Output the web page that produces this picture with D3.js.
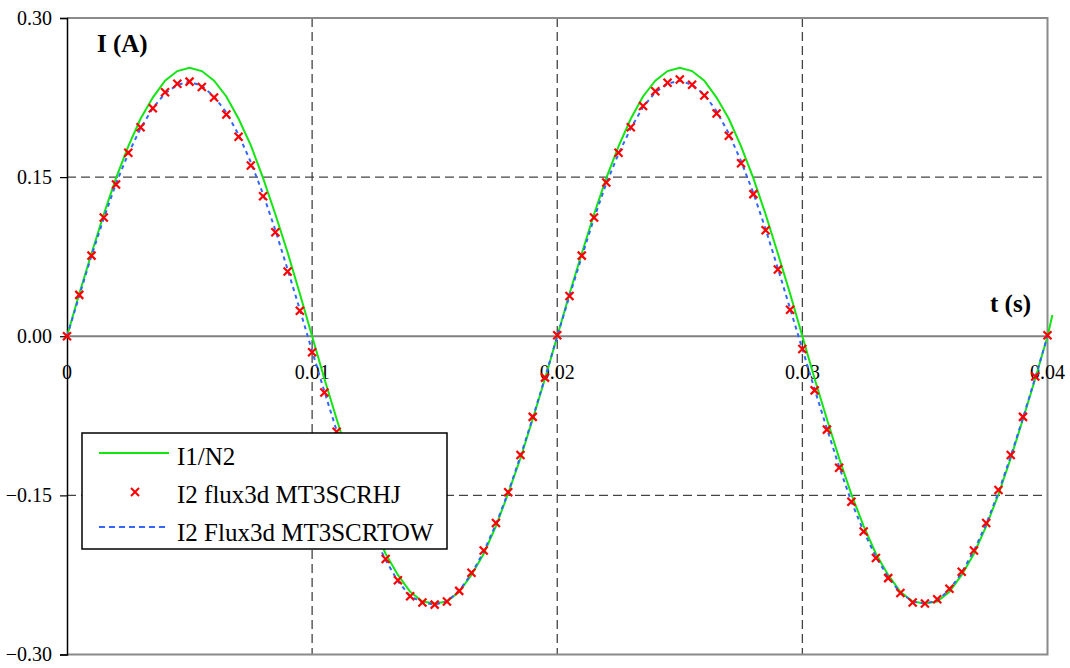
<!DOCTYPE html>
<html>
<head>
<meta charset="utf-8">
<script src="https://cdn.jsdelivr.net/npm/d3@7"></script>
<style>
  body { margin: 0; background: #fff; }
  svg { display: block; }
  svg text { font-family: 'Liberation Serif', 'Times New Roman', 'DejaVu Serif', serif; }
</style>
</head>
<body>
<div id="chart"></div>
<script>
// sample times (s), one sample every 0.5 ms over two periods
const sampleTimes = d3.range(0, 81).map(i => +(i * 0.0005).toFixed(4));
const greenTimes = sampleTimes.concat([0.0402]);

// I1/N2 (A)
const greenValues = [
  0.000, 0.040, 0.078, 0.115, 0.149, 0.179, 0.205, 0.225, 0.241, 0.250,
  0.253, 0.250, 0.241, 0.226, 0.205, 0.180, 0.149, 0.115, 0.079, 0.040,
  0.000, -0.040, -0.078, -0.115, -0.149, -0.179, -0.205, -0.225, -0.241, -0.250,
  -0.252, -0.250, -0.241, -0.225, -0.205, -0.179, -0.148, -0.115, -0.078, -0.040,
  0.000, 0.040, 0.078, 0.115, 0.149, 0.179, 0.205, 0.226, 0.241, 0.250,
  0.253, 0.250, 0.241, 0.225, 0.205, 0.179, 0.149, 0.115, 0.078, 0.040,
  0.000, -0.040, -0.078, -0.115, -0.149, -0.179, -0.205, -0.225, -0.241, -0.250,
  -0.252, -0.250, -0.241, -0.225, -0.205, -0.179, -0.149, -0.115, -0.078, -0.040,
  0.000, 0.020
];

// I2 flux3d MT3SCRHJ (A)
const redValues = [
  0.000, 0.039, 0.076, 0.112, 0.143, 0.173, 0.197, 0.215, 0.230, 0.238,
  0.240, 0.235, 0.225, 0.209, 0.188, 0.161, 0.132, 0.098, 0.061, 0.024,
  -0.015, -0.053, -0.090, -0.126, -0.160, -0.188, -0.210, -0.230, -0.245, -0.251,
  -0.253, -0.250, -0.240, -0.223, -0.202, -0.176, -0.147, -0.112, -0.076, -0.039,
  0.001, 0.038, 0.076, 0.112, 0.145, 0.173, 0.197, 0.217, 0.231, 0.239,
  0.242, 0.237, 0.227, 0.210, 0.189, 0.163, 0.134, 0.100, 0.063, 0.025,
  -0.012, -0.051, -0.088, -0.124, -0.156, -0.184, -0.209, -0.228, -0.242, -0.251,
  -0.252, -0.248, -0.238, -0.222, -0.202, -0.176, -0.145, -0.112, -0.076, -0.038,
  0.001
];

// I2 Flux3d MT3SCRTOW (A)
const blueValues = [
  0.000, 0.038, 0.076, 0.111, 0.144, 0.172, 0.196, 0.215, 0.229, 0.237,
  0.240, 0.236, 0.226, 0.211, 0.190, 0.164, 0.134, 0.100, 0.063, 0.025,
  -0.014, -0.052, -0.089, -0.125, -0.158, -0.187, -0.211, -0.231, -0.245, -0.251,
  -0.253, -0.250, -0.240, -0.224, -0.203, -0.177, -0.147, -0.113, -0.077, -0.039,
  0.000, 0.038, 0.075, 0.111, 0.144, 0.172, 0.196, 0.216, 0.230, 0.238,
  0.241, 0.237, 0.228, 0.212, 0.191, 0.165, 0.135, 0.101, 0.064, 0.026,
  -0.012, -0.050, -0.087, -0.123, -0.156, -0.184, -0.208, -0.227, -0.242, -0.250,
  -0.252, -0.249, -0.239, -0.223, -0.202, -0.177, -0.147, -0.113, -0.077, -0.039,
  0.000
];

const yTicks = [0.30, 0.15, 0.00, -0.15, -0.30];
const xTicks = [0, 0.01, 0.02, 0.03, 0.04];
const xTickLabels = ['0', '0.01', '0.02', '0.03', '0.04'];
const seriesNames = ['I1/N2', 'I2 flux3d MT3SCRHJ', 'I2 Flux3d MT3SCRTOW'];

const width = 1070;
const height = 668;
const FONT = "'Liberation Serif', 'Times New Roman', 'DejaVu Serif', serif";
const GREEN = '#11e611';
const RED = '#ff0000';
const BLUE = '#3366ff';

const svg = d3.select('#chart').append('svg')
  .attr('width', width)
  .attr('height', height)
  .attr('font-family', FONT);

const x = d3.scaleLinear().domain([0, 0.04]).range([67, 1047.5]);
const y = d3.scaleLinear().domain([-0.30, 0.30]).range([654.5, 18]);

// dashed grid
svg.append('g').selectAll('line')
  .data(yTicks.filter(v => Math.abs(v) === 0.15))
  .enter().append('line')
    .attr('x1', x(0)).attr('x2', x(0.04))
    .attr('y1', d => y(d)).attr('y2', d => y(d))
    .attr('stroke', '#444').attr('stroke-width', 1.3)
    .attr('stroke-dasharray', '9,5');

svg.append('g').selectAll('line')
  .data(xTicks.slice(1, 4))
  .enter().append('line')
    .attr('x1', d => x(d)).attr('x2', d => x(d))
    .attr('y1', y(0.30)).attr('y2', y(-0.30))
    .attr('stroke', '#444').attr('stroke-width', 1.3)
    .attr('stroke-dasharray', '9,5');

// plot frame (top, right, bottom) and zero line
svg.append('path')
  .attr('d', `M${x(0)},${y(0.30)}H${x(0.04)}V${y(-0.30)}H${x(0)}`)
  .attr('fill', 'none').attr('stroke', '#8a8a8a').attr('stroke-width', 2);

svg.append('line')
  .attr('x1', x(0)).attr('x2', x(0.04))
  .attr('y1', y(0)).attr('y2', y(0))
  .attr('stroke', '#808080').attr('stroke-width', 2);

// y axis
const yAxis = d3.axisLeft(y)
  .tickValues(yTicks)
  .tickSize(7)
  .tickPadding(8)
  .tickFormat(d => d === 0 ? '0.00' : d3.format('.2f')(d));

const yg = svg.append('g')
  .attr('transform', `translate(${x(0)},0)`)
  .call(yAxis)
  .attr('font-family', FONT)
  .attr('font-size', 20);
yg.select('.domain').attr('stroke', '#000').attr('stroke-width', 1.5);
yg.selectAll('.tick line').attr('stroke', '#000').attr('stroke-width', 1.2);
yg.selectAll('.tick text').attr('fill', '#000');

// x tick labels below the zero line
svg.append('g').selectAll('text')
  .data(xTicks)
  .enter().append('text')
    .attr('x', d => x(d))
    .attr('y', 379)
    .attr('text-anchor', 'middle')
    .attr('font-size', 20)
    .attr('fill', '#000')
    .text((d, i) => xTickLabels[i]);

// axis titles
svg.append('text')
  .attr('x', 97).attr('y', 52)
  .attr('font-size', 25).attr('font-weight', 'bold')
  .text('I (A)');

svg.append('text')
  .attr('x', 1031).attr('y', 312)
  .attr('text-anchor', 'end')
  .attr('font-size', 25).attr('font-weight', 'bold')
  .text('t (s)');

// series
const line = d3.line()
  .x(d => x(d[0]))
  .y(d => y(d[1]));

svg.append('path')
  .datum(d3.zip(greenTimes, greenValues))
  .attr('d', line)
  .attr('fill', 'none').attr('stroke', GREEN).attr('stroke-width', 2);

svg.append('path')
  .datum(d3.zip(sampleTimes, blueValues))
  .attr('d', line)
  .attr('fill', 'none').attr('stroke', BLUE).attr('stroke-width', 2)
  .attr('stroke-dasharray', '4,4');

// red x markers
svg.append('g')
  .selectAll('path')
  .data(d3.zip(sampleTimes, redValues))
  .enter().append('path')
    .attr('transform', d => `translate(${x(d[0])},${y(d[1])})`)
    .attr('d', 'M-4,-4L4,4M-4,4L4,-4')
    .attr('stroke', RED).attr('stroke-width', 2.2);

// legend
const legend = svg.append('g');
legend.append('rect')
  .attr('x', 82).attr('y', 433)
  .attr('width', 365).attr('height', 116)
  .attr('fill', '#fff').attr('stroke', '#000').attr('stroke-width', 1.5);

const rowY = [465, 503, 541];
legend.selectAll('text')
  .data(seriesNames)
  .enter().append('text')
    .attr('x', 177)
    .attr('y', (d, i) => rowY[i])
    .attr('font-size', 25)
    .attr('fill', '#000')
    .text(d => d);

legend.append('line')
  .attr('x1', 99).attr('x2', 169).attr('y1', 453).attr('y2', 453)
  .attr('stroke', GREEN).attr('stroke-width', 2);
legend.append('path')
  .attr('d', 'M131,488L139,496M131,496L139,488')
  .attr('stroke', RED).attr('stroke-width', 2);
legend.append('line')
  .attr('x1', 99).attr('x2', 169).attr('y1', 527).attr('y2', 527)
  .attr('stroke', BLUE).attr('stroke-width', 2)
  .attr('stroke-dasharray', '6,4');
</script>
</body>
</html>
